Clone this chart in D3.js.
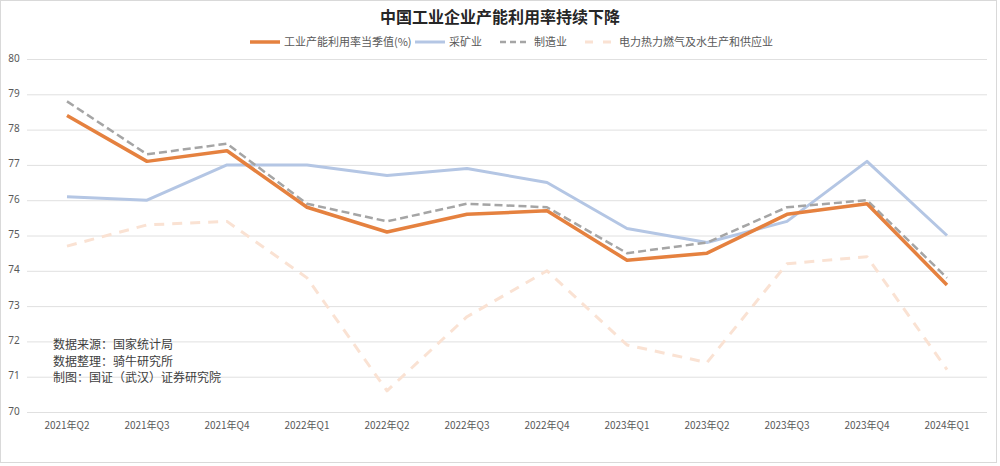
<!DOCTYPE html>
<html>
<head>
<meta charset="utf-8">
<script src="https://cdn.jsdelivr.net/npm/d3@7"></script>
<style>
  body { margin: 0; background: #fff; }
  text { font-family: "Noto Sans CJK SC", "Noto Sans", sans-serif; }
</style>
</head>
<body>
<div id="chart"></div>
<script>
const quarters = ["2021年Q2", "2021年Q3", "2021年Q4", "2022年Q1", "2022年Q2", "2022年Q3",
  "2022年Q4", "2023年Q1", "2023年Q2", "2023年Q3", "2023年Q4", "2024年Q1"];
const industry = [78.4, 77.1, 77.4, 75.8, 75.1, 75.6, 75.7, 74.3, 74.5, 75.6, 75.9, 73.6];
const mining = [76.1, 76.0, 77.0, 77.0, 76.7, 76.9, 76.5, 75.2, 74.8, 75.4, 77.1, 75.0];
const manufacturing = [78.8, 77.3, 77.6, 75.9, 75.4, 75.9, 75.8, 74.5, 74.8, 75.8, 76.0, 73.8];
const utilities = [74.7, 75.3, 75.4, 73.8, 70.6, 72.7, 74.0, 71.9, 71.4, 74.2, 74.4, 71.2];
const yTicks = [70, 71, 72, 73, 74, 75, 76, 77, 78, 79, 80];

const series = [
  { name: "工业产能利用率当季值(%)", values: industry, color: "#E5813F", width: 3.5, dash: null },
  { name: "采矿业", values: mining, color: "#B4C6E4", width: 3, dash: null },
  { name: "制造业", values: manufacturing, color: "#A5A5A5", width: 2.5, dash: "8,4" },
  { name: "电力热力燃气及水生产和供应业", values: utilities, color: "#FAE2D3", width: 3, dash: "10,8" }
];

const W = 1000, H = 466;
const svg = d3.select("#chart").append("svg").attr("width", W).attr("height", H);

svg.append("rect").attr("x", 0.5).attr("y", 0.5).attr("width", W - 4).attr("height", H - 4)
  .attr("fill", "#fff").attr("stroke", "#d9d9d9");

const x = d3.scaleBand().domain(quarters).range([27, 987]);
const y = d3.scaleLinear().domain([70, 80]).range([412, 59]);

// gridlines
svg.append("g")
  .selectAll("line").data(yTicks).join("line")
  .attr("x1", 27).attr("x2", 987)
  .attr("y1", d => y(d) + 0.5).attr("y2", d => y(d) + 0.5)
  .attr("stroke", "#e0e0e0").attr("stroke-width", 1);

const yAxis = svg.append("g").attr("transform", "translate(20,0)")
  .call(d3.axisLeft(y).tickValues(yTicks).tickSize(0).tickPadding(0));
yAxis.select(".domain").remove();
yAxis.selectAll("text").attr("fill", "#595959").attr("font-size", 10)
  .attr("text-anchor", "middle").attr("dx", -6).attr("dy", "0.2em")
  .style("font-family", "'Noto Sans', sans-serif");

const xAxis = svg.append("g").attr("transform", "translate(0,412)")
  .call(d3.axisBottom(x).tickSize(0).tickPadding(10));
xAxis.select(".domain").remove();
xAxis.selectAll("text").attr("fill", "#595959").attr("font-size", 10);

const line = d3.line().x((d, i) => x(quarters[i]) + x.bandwidth() / 2).y(d => y(d));

// draw faint series first
[3, 1, 2, 0].forEach(k => {
  const s = series[k];
  svg.append("path").datum(s.values)
    .attr("fill", "none").attr("stroke", s.color).attr("stroke-width", s.width)
    .attr("stroke-dasharray", s.dash).attr("stroke-linejoin", "round")
    .attr("d", line);
});

// title
svg.append("text").attr("x", 500).attr("y", 23).attr("text-anchor", "middle")
  .attr("font-size", 16).attr("font-weight", "bold").attr("fill", "#262626")
  .text("中国工业企业产能利用率持续下降");

// legend
const legendX = [250, 415, 500, 585];
series.forEach((s, i) => {
  const g = svg.append("g").attr("transform", `translate(${legendX[i]},42)`);
  g.append("line").attr("x1", 0).attr("x2", 30).attr("y1", 0).attr("y2", 0)
    .attr("stroke", s.color).attr("stroke-width", s.width)
    .attr("stroke-dasharray", s.dash ? (i === 2 ? "6,4" : "8,10") : null);
  g.append("text").attr("x", 34).attr("y", 4).attr("font-size", 11).attr("fill", "#595959")
    .text(s.name);
});

// source notes
const notes = ["数据来源：国家统计局", "数据整理：骑牛研究所", "制图：国证（武汉）证券研究院"];
svg.append("g").selectAll("text").data(notes).join("text")
  .attr("x", 53).attr("y", (d, i) => 349 + i * 16.5)
  .attr("font-size", 12).attr("fill", "#404040")
  .text(d => d);
</script>
</body>
</html>
